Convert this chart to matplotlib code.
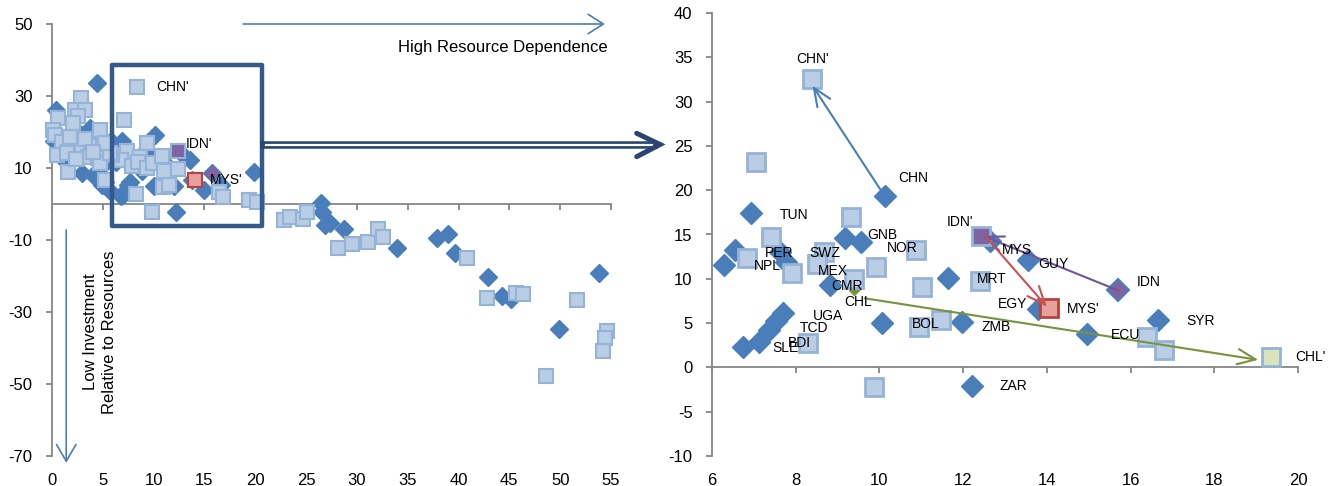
import numpy as np
import matplotlib.pyplot as plt
from matplotlib.lines import Line2D
from matplotlib.patches import Rectangle

plt.rcParams['font.family'] = ['Liberation Sans', 'DejaVu Sans']
plt.rcParams['axes.unicode_minus'] = False

# ---- data: countries inside the 6-20 window (shown in both panels) ----
dia_x = [6.29, 6.55, 6.93, 7.62, 7.77, 6.75, 7.13, 7.35, 7.52, 7.70, 8.83, 9.17,
         9.57, 10.13, 10.06, 11.64, 11.98, 12.22, 12.65, 13.55, 13.79, 14.97, 16.65]
dia_y = [11.6, 13.2, 17.4, 13.0, 11.9, 2.3, 2.9, 4.2, 5.2, 6.1, 9.3, 14.6,
         14.1, 19.3, 5.0, 10.1, 5.1, -2.1, 14.3, 12.1, 6.6, 3.8, 5.3]

sq_x = [8.40, 7.04, 7.42, 9.32, 6.83, 7.90, 8.67, 8.50, 9.39, 9.93, 10.87, 11.02,
        12.40, 10.95, 11.47, 8.30, 9.87, 16.40, 16.80]
sq_y = [32.5, 23.2, 14.7, 17.0, 12.3, 10.6, 13.0, 11.7, 10.0, 11.3, 13.3, 9.1,
        9.7, 4.6, 5.3, 2.75, -2.2, 3.4, 2.0]

# highlighted countries (before -> after)
idn = (15.70, 8.7)
idn_p = (12.42, 14.85)
mys = (12.65, 14.4)
mys_p = (14.05, 6.75)
chn = (10.13, 19.3)
chn_p = (8.40, 32.5)
chl = (9.39, 8.7)
chl_p = (19.36, 1.17)

# ---- data: remaining countries, left panel only ----
dia_x_out = [0.39, 4.4, 3.74, 2.92, 4.07, 4.9, 5.2, 0.2, 1.3, 2.8, 3.5, 5.6, 0.8,
             5.8, 4.9, 19.9, 26.5, 26.6, 26.9, 27.4, 28.7, 33.9, 37.9, 39.0,
             39.7, 42.9, 44.3, 45.2, 49.9, 53.8]
dia_y_out = [26.1, 33.5, 21.0, 8.5, 8.0, 5.3, 6.2, 17.5, 12.0, 19.5, 17.0, 4.0, 15.0,
             17.5, 10.5, 8.8, 0.2, -2.1, -5.8, -5.4, -7.0, -12.3, -9.4, -8.4,
             -13.7, -20.2, -25.5, -26.5, -34.7, -19.1]

sq_x_out = [2.9, 2.26, 3.25, 2.6, 0.62, 2.1, 4.72, 0.13, 0.3, 0.95, 3.08, 2.43,
            4.07, 5.05, 1.6, 0.46, 1.45, 3.57, 4.56, 5.87, 4.72, 1.6, 5.2, 5.7,
            5.2, 3.2, 1.8, 4.0, 2.4, 19.36, 20.2, 22.8, 23.4, 24.7, 25.1, 28.1,
            29.5, 31.1, 32.1, 32.6, 40.8, 42.8, 45.7, 46.3, 48.6, 51.7, 54.6,
            54.4, 54.2]
sq_y_out = [29.4, 26.1, 26.1, 24.5, 23.8, 22.4, 20.6, 20.6, 19.3, 17.3, 16.4, 16.0,
            16.0, 16.0, 14.5, 13.6, 14.1, 13.1, 12.7, 13.6, 11.3, 9.0, 6.7, 14.1,
            16.9, 18.0, 18.5, 14.5, 12.5, 1.17, 0.5, -4.4, -3.5, -4.3, -2.1, -12.1,
            -11.1, -10.5, -6.9, -9.1, -14.9, -26.0, -24.6, -25.0, -47.8, -26.7, -35.2,
            -37.1, -40.8]

# right panel labels: name, x, y
lab_names = ['CHN', 'TUN', 'GNB', 'NOR', 'PER', 'NPL', 'SWZ', 'MEX', 'CMR', 'CHL',
             'UGA', 'TCD', 'BDI', 'SLE', 'BOL', 'ZMB', 'ZAR', 'MRT', "IDN'", 'MYS',
             'GUY', 'IDN', 'EGY', "MYS'", 'ECU', 'SYR', "CHL'"]
lab_x = [10.44, 7.62, 9.72, 10.17, 7.27, 6.99, 8.32, 8.54, 8.84, 9.15,
         8.40, 8.10, 7.81, 7.44, 10.77, 12.44, 12.87, 12.32, 11.60, 12.92,
         13.79, 16.15, 12.83, 14.48, 15.54, 17.33, 19.94]
lab_y = [21.4, 17.2, 14.9, 13.5, 12.9, 11.5, 12.9, 10.9, 9.2, 7.4,
         5.8, 4.5, 2.8, 2.2, 4.9, 4.6, -2.1, 10.0, 16.4, 13.3,
         11.7, 9.6, 7.2, 6.6, 3.7, 5.2, 1.2]

BLUE = '#4A7EBB'
SQ_FACE = '#B9CDE5'
SQ_EDGE = '#95B3D7'
PURPLE = '#8064A2'
RED = '#C0504D'
GREEN = '#77933C'
GREY = '#868686'
NAVY = '#35598A'


def style_axes(ax, xlim, ylim, xticks, yticks):
    ax.set_xlim(xlim)
    ax.set_ylim(ylim)
    for s in ['top', 'right']:
        ax.spines[s].set_visible(False)
    ax.spines['left'].set_color(GREY)
    ax.spines['left'].set_linewidth(1.3)
    ax.spines['bottom'].set_position(('data', 0))
    ax.spines['bottom'].set_color(GREY)
    ax.spines['bottom'].set_linewidth(1.3)
    ax.set_xticks(xticks)
    ax.set_yticks(yticks)
    ax.tick_params(axis='x', length=4, width=1.3, color=GREY, labelbottom=False)
    ax.tick_params(axis='y', length=4, width=1.3, color=GREY, labelsize=12, pad=10)
    sec = ax.secondary_xaxis(0)
    sec.set_xticks(xticks)
    sec.spines['bottom'].set_visible(False)
    sec.tick_params(length=0, labelsize=12, pad=12)


fig = plt.figure(figsize=(13.35, 4.86), dpi=100)
ax1 = fig.add_axes([52 / 1335, 30 / 486, 559 / 1335, 432 / 486])
ax2 = fig.add_axes([712 / 1335, 30 / 486, 586 / 1335, 443 / 486])

# ---------------- left panel ----------------
style_axes(ax1, (0, 55), (-70, 50), np.arange(0, 56, 5), [50, 30, 10, -10, -30, -50, -70])

ms_d, ms_s = 9.5, 10.5
ax1.plot(dia_x + dia_x_out, dia_y + dia_y_out, 'D', ms=ms_d, color=BLUE, mec=BLUE,
         mew=1, ls='none', zorder=3, clip_on=False)
ax1.plot(*idn, 'D', ms=ms_d, color=PURPLE, mec=BLUE, mew=1, zorder=3)
ax1.plot(sq_x + sq_x_out, sq_y + sq_y_out, 's', ms=ms_s, color=SQ_FACE, mec=SQ_EDGE,
         mew=1.5, ls='none', zorder=4, clip_on=False)
ax1.plot(*idn_p, 's', ms=ms_s, color=PURPLE, mec=SQ_EDGE, mew=1.5, zorder=5)
ax1.plot(*mys_p, 's', ms=ms_s, color='#E6A09E', mec='#B7423F', mew=1.5, zorder=5)

ax1.text(chn_p[0] + 1.9, chn_p[1], "CHN'", fontsize=10, va='center')
ax1.text(idn_p[0] + 0.7, idn_p[1] + 1.9, "IDN'", fontsize=10, va='center')
ax1.text(mys_p[0] + 1.5, mys_p[1], "MYS'", fontsize=10, va='center')

ax1.add_patch(Rectangle((5.9, -6.1), 14.77, 44.7, fill=False, ec=NAVY, lw=3.2,
                        joinstyle='round', zorder=6, clip_on=False))

ax1.annotate('', xy=(54.4, 50), xytext=(18.8, 50), annotation_clip=False,
             arrowprops=dict(arrowstyle='->,head_length=1.1,head_width=0.7',
                             mutation_scale=10, color=BLUE, lw=1.2,
                             shrinkA=0, shrinkB=0))
ax1.text(54.7, 43.6, 'High Resource Dependence', fontsize=12, ha='right', va='center')

ax1.annotate('', xy=(1.4, -71.9), xytext=(1.4, -7.2), annotation_clip=False,
             arrowprops=dict(arrowstyle='->,head_length=1.2,head_width=0.7',
                             mutation_scale=10, color=BLUE, lw=1.2,
                             shrinkA=0, shrinkB=0))
ax1.text(4.7, -35.6, 'Low Investment\nRelative to Resources', fontsize=12,
         rotation=90, ha='center', va='center', multialignment='center',
         linespacing=1.3)

# ---------------- right panel ----------------
style_axes(ax2, (6, 20), (-10, 40), np.arange(6, 21, 2), np.arange(-10, 41, 5))

ms_d2, ms_s2 = 11.7, 13.2
ax2.plot(dia_x, dia_y, 'D', ms=ms_d2, color=BLUE, mec=BLUE, mew=1, ls='none', zorder=3)
ax2.plot(*idn, 'D', ms=ms_d2, color=PURPLE, mec=BLUE, mew=1.5, zorder=3)
ax2.plot(*chl, 'D', ms=5, color=GREEN, mec=GREEN, zorder=3)
ax2.plot(sq_x, sq_y, 's', ms=ms_s2, color=SQ_FACE, mec=SQ_EDGE, mew=2, ls='none', zorder=4)
ax2.plot(*idn_p, 's', ms=ms_s2, color=PURPLE, mec=SQ_EDGE, mew=2, zorder=5)
ax2.plot(*mys_p, 's', ms=ms_s2, color='#E6A09E', mec='#B7423F', mew=2, zorder=5)
ax2.plot(*chl_p, 's', ms=ms_s2, color='#D7E4BD', mec=SQ_EDGE, mew=2, zorder=5)


def move(start, end, color):
    ax2.annotate('', xy=end, xytext=start, zorder=6,
                 arrowprops=dict(arrowstyle='->,head_length=1.3,head_width=0.55',
                                 mutation_scale=10, color=color, lw=1.5,
                                 shrinkA=0, shrinkB=0))


move(chn, (chn_p[0], chn_p[1] - 0.7), BLUE)
move(idn, (idn_p[0] + 0.05, idn_p[1]), '#6F559A')
move((12.55, 14.7), (mys_p[0] - 0.05, mys_p[1] + 0.1), '#D0504D')
move((9.65, 7.8), (19.05, 0.85), GREEN)

for name, x, y in zip(lab_names, lab_x, lab_y):
    ax2.text(x, y, name, fontsize=10, va='center', zorder=7)
ax2.text(chn_p[0], chn_p[1] + 2.3, "CHN'", fontsize=10, ha='center', va='center')

# ---------------- connector between the panels ----------------
yc = 1 - 144.5 / 486
fig.add_artist(Line2D([264 / 1335, 654 / 1335], [yc, yc], lw=5.4, color='#2A4670',
                      transform=fig.transFigure))
fig.add_artist(Line2D([266 / 1335, 652 / 1335], [yc, yc], lw=1.6, color='white',
                      transform=fig.transFigure))
fig.add_artist(Line2D([636.7 / 1335, 660 / 1335, 636.7 / 1335],
                      [1 - 133.3 / 486, yc, 1 - 156.7 / 486], lw=3.6, color='#2A4670',
                      solid_capstyle='round', solid_joinstyle='miter',
                      transform=fig.transFigure))

fig.savefig('out.png', dpi=100)
